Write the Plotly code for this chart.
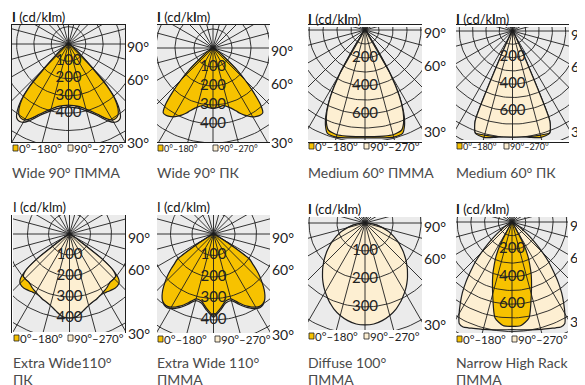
import numpy as np
import plotly.graph_objects as go

# the page body adds an 8 px margin, so the figure is drawn 8 px smaller and shifted
PAD = 8
W, H = 585 - PAD, 385 - PAD

# angle from nadir, degrees (curves are symmetric left/right)
gamma = [0, 5, 10, 15, 20, 22.5, 25, 27.5, 30, 32.5, 35, 37.5, 40, 42.5, 45,
         47.5, 50, 52.5, 55, 57.5, 60, 65, 70, 80, 90]

# intensities, cd/klm  (c0 = 0°-180° plane, c90 = 90°-270° plane)
wide90_pmma_c0 = [353, 358, 368, 390, 420, 440, 465, 490, 508, 510, 500, 470, 420, 330, 190,
                  110, 70, 45, 30, 20, 14, 8, 4, 1, 0]
wide90_pmma_c90 = [364, 369, 379, 400, 430, 450, 476, 503, 523, 530, 522, 486, 428, 334, 192,
                   111, 70, 45, 30, 20, 14, 8, 4, 1, 0]
wide90_pk_c0 = [318, 314, 308, 322, 352, 372, 390, 405, 418, 427, 432, 430, 390, 315, 240,
                170, 100, 60, 40, 28, 20, 10, 5, 1, 0]
wide90_pk_c90 = [306, 303, 298, 312, 342, 360, 377, 391, 404, 413, 418, 416, 377, 304, 231,
                 163, 95, 57, 37, 26, 18, 9, 4, 1, 0]
medium60_pmma_c0 = [770, 774, 782, 792, 785, 738, 655, 535, 362, 121, 50, 40, 28, 20, 15,
                    12, 9, 7, 6, 5, 4, 3, 2, 1, 0]
medium60_pmma_c90 = [762, 765, 770, 775, 762, 720, 645, 530, 360, 120, 50, 40, 28, 20, 15,
                     12, 9, 7, 6, 5, 4, 3, 2, 1, 0]
medium60_pk_c0 = [790, 795, 812, 828, 818, 730, 195, 58, 35, 25, 18, 14, 10, 8, 6,
                  5, 4, 3, 3, 2, 2, 1, 1, 0, 0]
medium60_pk_c90 = [797, 800, 805, 810, 815, 735, 200, 60, 35, 25, 18, 14, 10, 8, 6,
                   5, 4, 3, 3, 2, 2, 1, 1, 0, 0]
extrawide_pk_c0 = [398, 392, 370, 350, 338, 334, 329, 326, 326, 328, 331, 334, 337, 337, 333,
                   318, 275, 195, 60, 30, 18, 8, 4, 1, 0]
extrawide_pk_c90 = [400, 394, 372, 352, 340, 336, 330, 325, 320, 316, 311, 305, 300, 300, 300,
                    298, 275, 195, 60, 30, 18, 8, 4, 1, 0]
extrawide_pmma_c0 = [380, 350, 318, 312, 340, 356, 370, 383, 393, 399, 398, 390, 372, 348, 320,
                     292, 262, 230, 205, 100, 40, 18, 9, 3, 0]
extrawide_pmma_c90 = [387, 357, 326, 321, 348, 364, 378, 391, 400, 405, 402, 387, 366, 342, 314,
                      286, 256, 224, 200, 97, 38, 17, 8, 2, 0]
diffuse100_c0 = [360, 358, 350, 338, 322, 312, 302, 291, 280, 269, 257, 245, 232, 220, 207,
                 195, 182, 170, 157, 145, 133, 109, 87, 42, 0]
diffuse100_c90 = [364, 362, 354, 342, 326, 316, 306, 295, 284, 273, 261, 249, 236, 224, 211,
                  199, 186, 174, 161, 149, 137, 113, 90, 44, 0]
narrow_rack_c0 = [762, 758, 712, 545, 410, 340, 275, 190, 45, 25, 15, 10, 8, 6, 5,
                  4, 3, 3, 2, 2, 1, 1, 0, 0, 0]
narrow_rack_c90 = [786, 790, 800, 812, 826, 836, 845, 835, 772, 702, 632, 553, 470, 398, 318,
                   242, 178, 125, 85, 55, 35, 15, 8, 2, 0]

captions = [["Wide 90° ПММА"], ["Wide 90° ПК"], ["Medium 60° ПММА"], ["Medium 60° ПК"],
            ["Extra Wide110°", "ПК"], ["Extra Wide 110°", "ПММА"],
            ["Diffuse 100°", "ПММА"], ["Narrow High Rack", "ПММА"]]
ring_labels = [[100, 200, 300, 400], [100, 200, 300, 400], [200, 400, 600], [200, 400, 600],
               [100, 200, 300, 400], [100, 200, 300, 400], [100, 200, 300], [200, 400, 600]]
curves = [(wide90_pmma_c0, wide90_pmma_c90), (wide90_pk_c0, wide90_pk_c90),
          (medium60_pmma_c0, medium60_pmma_c90), (medium60_pk_c0, medium60_pk_c90),
          (extrawide_pk_c0, extrawide_pk_c90), (extrawide_pmma_c0, extrawide_pmma_c90),
          (diffuse100_c0, diffuse100_c90), (narrow_rack_c0, narrow_rack_c90)]
angle_labels = ["90°", "60°", "30°"]

# layout of each diagram in window pixels: box, origin, px per cd/klm, which plane on top
geo = [
    dict(box=(12, 125, 25, 142), o=(68.5, 44), s=0.173, top="c0", bold=True, small=False, leg2=56),
    dict(box=(157, 269, 25, 142), o=(213, 48), s=0.19, top="c0", bold=True, small=True, leg2=56),
    dict(box=(308, 422, 27, 140), o=(365, 30), s=0.14, top="c90", bold=True, small=False, leg2=56),
    dict(box=(456, 569, 27, 140), o=(512.5, 31), s=0.133, top="c90", bold=True, small=True, leg2=48),
    dict(box=(13, 126, 215, 332), o=(69.5, 234), s=0.21, top="c90", bold=False, small=False, leg2=55),
    dict(box=(157, 270, 215, 333), o=(213.5, 234), s=0.215, top="c0", bold=False, small=False, leg2=58),
    dict(box=(308, 422, 217, 330), o=(365, 223), s=0.28, top="c90", bold=True, small=False, leg2=56),
    dict(box=(456, 568, 217, 333), o=(512, 222), s=0.137, top="c0", bold=True, small=False, leg2=56),
]

YELLOW = "#f7c200"
CREAM = "#fdefd2"
INK = "#1e1e1e"
FONT = "Lato"

fig = go.Figure()
annotations = []
shapes = []


def fx(p):
    return (p - PAD) / W


def fy(p):
    return 1 - (p - PAD) / H


def note(x, y, text, size, color="#222", xanchor="left"):
    annotations.append(dict(x=fx(x), y=fy(y), xref="paper", yref="paper", text=text,
                            xanchor=xanchor, yanchor="middle", showarrow=False, borderpad=0,
                            font=dict(family=FONT, size=size, color=color)))


g = np.radians(gamma)
for i, (p, (c0, c90)) in enumerate(zip(geo, curves), start=1):
    xa = "x" if i == 1 else f"x{i}"
    ya = "y" if i == 1 else f"y{i}"
    L, R, T, B = p["box"]
    ox, oy = p["o"]
    s = p["s"]
    xr = [(L - ox) / s, (R - ox) / s]
    yr = [-(B - oy) / s, (oy - T) / s]
    fig.layout[f"xaxis{'' if i == 1 else i}"] = dict(
        domain=[fx(L), fx(R)], range=xr, showgrid=False, zeroline=False, showticklabels=False,
        ticks="", showline=True, mirror=True, linecolor=INK, linewidth=1, fixedrange=True)
    fig.layout[f"yaxis{'' if i == 1 else i}"] = dict(
        domain=[fy(B), fy(T)], range=yr, showgrid=False, zeroline=False, showticklabels=False,
        ticks="", showline=True, mirror=True, linecolor=INK, linewidth=1, fixedrange=True)

    planes = {"c0": (np.array(c0, float), YELLOW), "c90": (np.array(c90, float), CREAM)}
    order = ["c90", "c0"] if p["top"] == "c0" else ["c0", "c90"]
    for key in order:
        v, col = planes[key]
        xs = np.concatenate([-(v * np.sin(g))[::-1], (v * np.sin(g))[1:]])
        ys = np.concatenate([-(v * np.cos(g))[::-1], -(v * np.cos(g))[1:]])
        fig.add_trace(go.Scatter(x=xs, y=ys, xaxis=xa, yaxis=ya, mode="lines", fill="toself",
                                 fillcolor=col, line=dict(color=INK, width=1.2, shape="spline",
                                                          smoothing=0.6),
                                 hoverinfo="skip"))

    # polar grid
    rmax = max(np.hypot(xr[0], yr[0]), np.hypot(xr[1], yr[0]), np.hypot(xr[0], yr[1])) + 100
    t = np.radians(np.arange(0, 361, 2))
    cx, cy = [], []
    for r in np.arange(100, rmax, 100):
        cx += list(r * np.sin(t)) + [None]
        cy += list(r * np.cos(t)) + [None]
    for a in np.radians(np.arange(0, 360, 15)):
        cx += [0, rmax * np.sin(a), None]
        cy += [0, -rmax * np.cos(a), None]
    fig.add_trace(go.Scatter(x=cx, y=cy, xaxis=xa, yaxis=ya, mode="lines",
                             line=dict(color=INK, width=0.9), hoverinfo="skip"))
    labs = ring_labels[i - 1]
    fig.add_trace(go.Scatter(x=[0] * len(labs), y=[-r for r in labs], xaxis=xa, yaxis=ya,
                             mode="text", text=[str(r) for r in labs],
                             textfont=dict(family=FONT, size=15, color="#222"),
                             hoverinfo="skip"))

    # header
    head = "<b>I</b> (cd/k<b>l</b>m)" if p["bold"] else "I (cd/klm)"
    note(L - 1, T - 8, head, 13, "#111")
    # angle labels at right edge
    half = R - ox
    for lab, a in zip(angle_labels, [90, 60, 30]):
        yy = oy + half / np.tan(np.radians(a)) if a != 90 else oy
        note(R + 1, min(yy + 3, B + 1), lab, 14)
    # legend swatches
    ly = B + 6
    fs = 9 if p["small"] else 11.5
    for off, col, txt in [(1, YELLOW, "0°–180°"), (p["leg2"], CREAM, "90°–270°")]:
        shapes.append(dict(type="rect", xref="paper", yref="paper",
                           x0=fx(L + off), x1=fx(L + off + 5), y0=fy(ly + 3), y1=fy(ly - 3),
                           fillcolor=col, line=dict(color=INK, width=0.8)))
        note(L + off + 5, ly, txt, fs)
    # caption
    cap_y = 172 if i <= 4 else 362.5
    for k, line in enumerate(captions[i - 1]):
        note(L - 1, cap_y + 16.5 * k, line, 14, "#4a4a4a")

fig.update_layout(width=W, height=H, margin=dict(l=0, r=0, t=0, b=0),
                  paper_bgcolor="white", plot_bgcolor="#ebebeb", showlegend=False,
                  annotations=annotations, shapes=shapes)
fig.write_html("out.html")
